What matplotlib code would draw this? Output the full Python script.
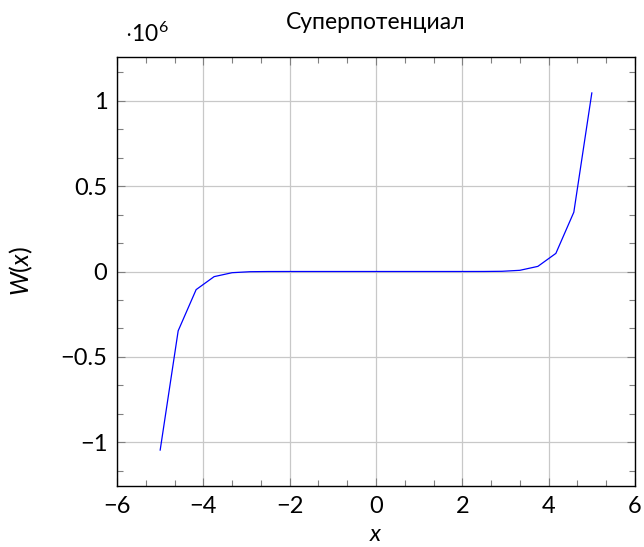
import matplotlib
matplotlib.use("Agg")
import matplotlib.pyplot as plt
from matplotlib.ticker import MultipleLocator, FuncFormatter

plt.rcParams['font.family'] = ['Lato', 'DejaVu Sans']
plt.rcParams['mathtext.fontset'] = 'custom'
plt.rcParams['mathtext.rm'] = 'Lato'
plt.rcParams['mathtext.it'] = 'Lato:italic'
plt.rcParams['axes.unicode_minus'] = True

x_vals = [-5.0, -4.583, -4.167, -3.75, -3.333, -2.917, -2.5, -2.083, -1.667, -1.25, -0.833, -0.417,
          0.0, 0.417, 0.833, 1.25, 1.667, 2.083, 2.5, 2.917, 3.333, 3.75, 4.167, 4.583, 5.0]
w_vals = [-1045000, -347000, -106000, -30000, -7000, -1200, -180, -20, -2, 0, 0, 0,
          0, 0, 0, 0, 2, 20, 180, 1200, 7000, 30000, 106000, 347000, 1045000]

title = "Суперпотенциал"
xlabel = "$x$"
ylabel = "$W(x)$"

fig = plt.figure(figsize=(6.44, 5.47), dpi=100)
ax = fig.add_axes([0.1817, 0.111, 0.986 - 0.1817, 0.8963 - 0.111])

ax.plot(x_vals, w_vals, color='#0000ff', lw=0.9)

ax.set_xlim(-6, 6)
ax.set_ylim(-1.257e6, 1.257e6)
ax.xaxis.set_major_locator(MultipleLocator(2))
ax.xaxis.set_minor_locator(MultipleLocator(2 / 3))
ax.yaxis.set_major_locator(MultipleLocator(0.5e6))
ax.yaxis.set_minor_locator(MultipleLocator(0.5e6 / 3))

def yfmt(v, pos):
    s = ('%g' % round(v / 1e6, 3))
    return s.replace('-', '\u2212')

def xfmt(v, pos):
    return ('%g' % v).replace('-', '\u2212')

ax.yaxis.set_major_formatter(FuncFormatter(yfmt))
ax.xaxis.set_major_formatter(FuncFormatter(xfmt))

ax.grid(True, which='major', color='#c8c8c8', lw=0.9)
ax.set_axisbelow(True)
ax.tick_params(which='both', direction='in', top=True, right=True, color='#808080', labelsize=17, width=0.8)
ax.tick_params(which='major', length=6, pad=7)
ax.tick_params(which='minor', length=4)
for s in ax.spines.values():
    s.set_linewidth(1.0)
    s.set_color('black')

ax.set_title(title, fontsize=16.5, pad=20)
ax.set_xlabel(xlabel, fontsize=17, labelpad=5)
ax.set_ylabel(ylabel, fontsize=18, labelpad=18)
ax.text(0.015, 1.025, r"$\cdot10^{6}$", transform=ax.transAxes, fontsize=16.5, ha='left', va='bottom')

fig.savefig("out.png", dpi=100)
